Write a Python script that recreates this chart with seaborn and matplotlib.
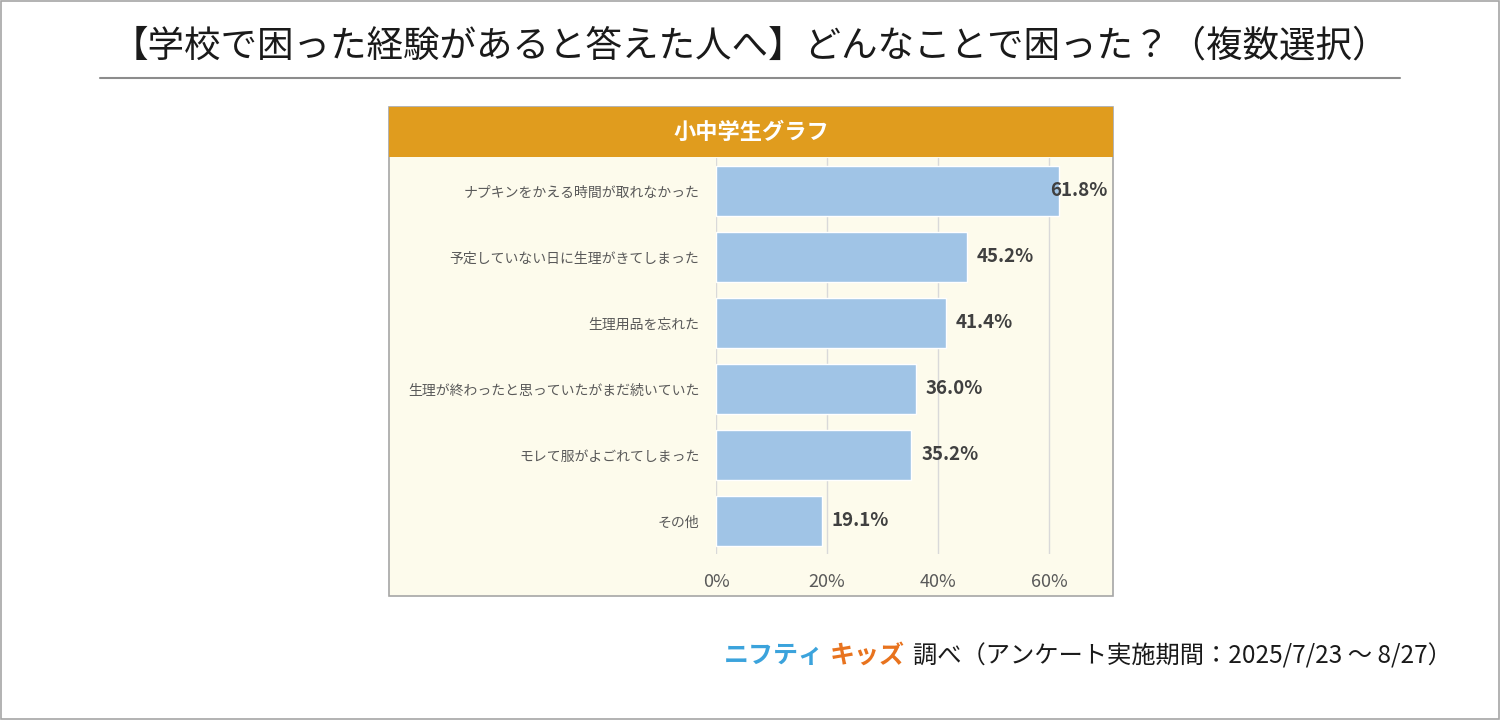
import matplotlib
matplotlib.use("Agg")
import matplotlib.pyplot as plt
import seaborn as sns
import pandas as pd
from matplotlib.patches import Rectangle
from matplotlib.ticker import FuncFormatter

sns.set_theme(style="white")
plt.rcParams['font.family'] = ['Noto Sans CJK JP', 'DejaVu Sans']

# ---- data ----
title = "【学校で困った経験があると答えた人へ】どんなことで困った？（複数選択）"
panel_title = "小中学生グラフ"
categories = [
    "ナプキンをかえる時間が取れなかった",
    "予定していない日に生理がきてしまった",
    "生理用品を忘れた",
    "生理が終わったと思っていたがまだ続いていた",
    "モレて服がよごれてしまった",
    "その他",
]
values = [61.8, 45.2, 41.4, 36.0, 35.2, 19.1]
x_ticks = [0, 20, 40, 60]
source_text = "調べ（アンケート実施期間：2025/7/23 ～ 8/27）"

df = pd.DataFrame({"item": categories, "pct": values})

fig = plt.figure(figsize=(15, 7.2), dpi=100)
fig.patch.set_facecolor("white")

# outer frame
fig.add_artist(Rectangle((0.0005, 0.001), 0.999, 0.998, transform=fig.transFigure,
                         fill=False, edgecolor="#A6A6A6", linewidth=1.2))

# title + underline
fig.text(0.5, 0.935, title, ha="center", va="center", fontsize=26.3, color="#1A1A1A")
fig.add_artist(plt.Line2D([100 / 1500, 1400 / 1500], [1 - 78 / 720] * 2,
                          transform=fig.transFigure, color="#8C8C8C", linewidth=1.5))

# panel background + header
px0, px1, py0, py1 = 389 / 1500, 1113 / 1500, 1 - 596 / 720, 1 - 107 / 720
fig.add_artist(Rectangle((px0, py0), px1 - px0, py1 - py0, transform=fig.transFigure,
                         facecolor="#FDFBEC", edgecolor="#A6A6A6", linewidth=1.2, zorder=0))
hy0 = 1 - 157 / 720
fig.add_artist(Rectangle((px0, hy0), px1 - px0, py1 - hy0, transform=fig.transFigure,
                         facecolor="#E09C1E", edgecolor="none", zorder=1))
fig.text((px0 + px1) / 2, (hy0 + py1) / 2, panel_title, ha="center", va="center",
         fontsize=16, fontweight="bold", color="white", zorder=2)

# bar axes
ax_l, ax_r = 716 / 1500, (716 + 70 * 5.55) / 1500
ax_b, ax_t = 1 - 554 / 720, 1 - 158 / 720
ax = fig.add_axes([ax_l, ax_b, ax_r - ax_l, ax_t - ax_b])
ax.set_facecolor("none")

sns.barplot(data=df, x="pct", y="item", orient="h", color="#A0C4E6",
            width=0.76, saturation=1, ax=ax, zorder=3)

ax.set_xlim(0, 70)
ax.set_xticks(x_ticks)
ax.xaxis.set_major_formatter(FuncFormatter(lambda v, p: f"{v:.0f}%"))
ax.grid(axis="x", color="#D9D9D9", linewidth=1, zorder=0)
ax.set_axisbelow(True)
for s in ax.spines.values():
    s.set_visible(False)
ax.set_xlabel("")
ax.set_ylabel("")
ax.tick_params(axis="x", labelsize=13, colors="#595959", length=0, pad=14)
ax.tick_params(axis="y", labelsize=10, colors="#595959", length=0, pad=12)

# value labels; the longest one is pushed back inside the panel
label_limit = 70.6
for i, v in enumerate(values):
    if v + 1.8 + 11 > label_limit:
        ax.text(label_limit, i, f"{v:.1f}%", va="center", ha="right", clip_on=False,
                fontsize=13.5, fontweight="bold", color="#404040", zorder=4)
    else:
        ax.text(v + 1.8, i, f"{v:.1f}%", va="center", ha="left",
                fontsize=13.5, fontweight="bold", color="#404040", zorder=4)

# footer source
fy = 1 - 656 / 720
fig.text(1452 / 1500, fy, source_text, ha="right", va="center",
         fontsize=17.5, color="#1A1A1A")
fig.text(824 / 1500, fy, "ニフティ", ha="right", va="center",
         fontsize=18, fontweight="bold", color="#3BA3DC")
fig.text(905 / 1500, fy, "キッズ", ha="right", va="center",
         fontsize=18, fontweight="bold", color="#E8731E")

fig.savefig("out.png", dpi=100)
